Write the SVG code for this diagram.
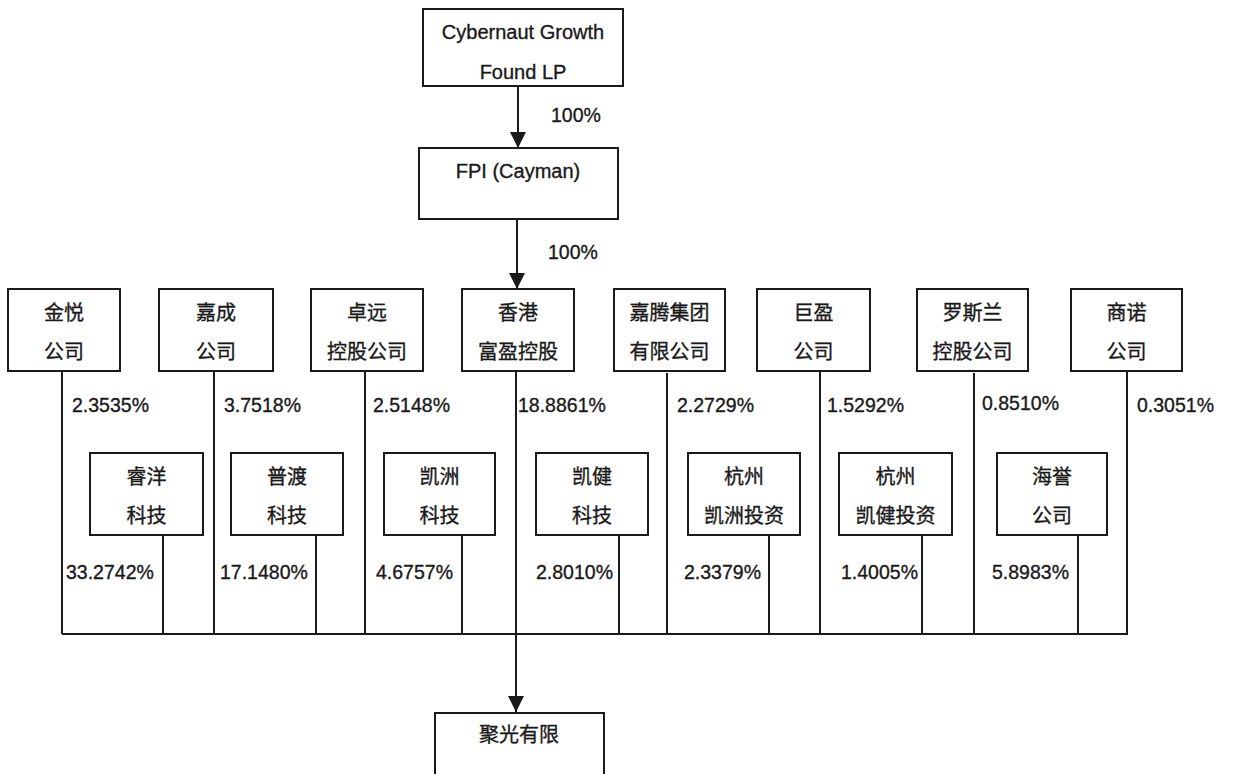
<svg xmlns="http://www.w3.org/2000/svg" width="1233" height="774" viewBox="0 0 1233 774">
<style>
.box{fill:#fff;stroke:#1a1a1a;stroke-width:2}
.ln{fill:none;stroke:#1a1a1a;stroke-width:2}
.t{font-family:"Liberation Sans","Noto Sans CJK SC",sans-serif;font-size:20px;fill:#1a1a1a;stroke:#1a1a1a;stroke-width:0.35;text-anchor:middle}
.p{font-family:"Liberation Sans",Arial,sans-serif;font-size:19.5px;fill:#1a1a1a;stroke:#1a1a1a;stroke-width:0.35}
</style>
<defs>
<marker id="ah" viewBox="0 0 16 16" refX="16" refY="8" markerWidth="16" markerHeight="16" markerUnits="userSpaceOnUse" orient="auto">
<path d="M0,0 L16,8 L0,16 Z" fill="#1a1a1a"/>
</marker>
</defs>
<rect width="1233" height="774" fill="#fff"/>

<g id="connectors">
<path class="ln" d="M518,86 V148" marker-end="url(#ah)"/>
<path class="ln" d="M517,219 V289" marker-end="url(#ah)"/>
<path class="ln" d="M516,371 V712" marker-end="url(#ah)"/>
<path class="ln" d="M62,634 H1128"/>
<path class="ln" d="M62,371 V634 M214,371 V634 M365,371 V634 M667,373 V634 M820,371 V634 M974,373 V634 M1127,371 V634"/>
<path class="ln" d="M163,535 V634 M316,535 V634 M462,535 V634 M619,535 V634 M769,535 V634 M922,535 V634 M1078,535 V634"/>
<text class="p" x="551" y="122">100%</text>
<text class="p" x="548" y="259">100%</text>
<text class="p" x="72" y="412">2.3535%</text>
<text class="p" x="224" y="412">3.7518%</text>
<text class="p" x="373" y="412">2.5148%</text>
<text class="p" x="518" y="412">18.8861%</text>
<text class="p" x="677" y="412">2.2729%</text>
<text class="p" x="827" y="412">1.5292%</text>
<text class="p" x="982" y="410">0.8510%</text>
<text class="p" x="1137" y="412">0.3051%</text>
<text class="p" x="66" y="579">33.2742%</text>
<text class="p" x="220" y="579">17.1480%</text>
<text class="p" x="376" y="579">4.6757%</text>
<text class="p" x="536" y="579">2.8010%</text>
<text class="p" x="684" y="579">2.3379%</text>
<text class="p" x="841" y="579">1.4005%</text>
<text class="p" x="992" y="579">5.8983%</text>
</g>

<g id="cybernaut">
<rect class="box" x="423" y="9" width="200" height="77"/>
<text class="t" x="523" y="39">Cybernaut Growth</text>
<text class="t" x="523" y="79">Found LP</text>
</g>
<g id="fpi">
<rect class="box" x="419" y="148" width="199" height="71"/>
<text class="t" x="518" y="178">FPI (Cayman)</text>
</g>

<g id="jinyue"><rect class="box" x="8" y="289" width="112" height="82"/><text class="t" x="64" y="320">金悦</text><text class="t" x="64" y="359">公司</text></g>
<g id="jiacheng"><rect class="box" x="159" y="289" width="114" height="82"/><text class="t" x="216" y="320">嘉成</text><text class="t" x="216" y="359">公司</text></g>
<g id="zhuoyuan"><rect class="box" x="311" y="289" width="112" height="82"/><text class="t" x="367" y="320">卓远</text><text class="t" x="367" y="359">控股公司</text></g>
<g id="hkfuying"><rect class="box" x="462" y="289" width="112" height="82"/><text class="t" x="518" y="320">香港</text><text class="t" x="518" y="359">富盈控股</text></g>
<g id="jiateng"><rect class="box" x="614" y="289" width="111" height="82"/><text class="t" x="669.5" y="320">嘉腾集团</text><text class="t" x="669.5" y="359">有限公司</text></g>
<g id="juying"><rect class="box" x="757" y="289" width="113" height="82"/><text class="t" x="813.5" y="320">巨盈</text><text class="t" x="813.5" y="359">公司</text></g>
<g id="luosilan"><rect class="box" x="917" y="289" width="111" height="82"/><text class="t" x="972.5" y="320">罗斯兰</text><text class="t" x="972.5" y="359">控股公司</text></g>
<g id="shangnuo"><rect class="box" x="1071" y="289" width="111" height="82"/><text class="t" x="1126.5" y="320">商诺</text><text class="t" x="1126.5" y="359">公司</text></g>

<g id="ruiyang"><rect class="box" x="90" y="453" width="113" height="82"/><text class="t" x="146.5" y="484">睿洋</text><text class="t" x="146.5" y="523">科技</text></g>
<g id="pudu"><rect class="box" x="231" y="453" width="112" height="82"/><text class="t" x="287" y="484">普渡</text><text class="t" x="287" y="523">科技</text></g>
<g id="kaizhou"><rect class="box" x="384" y="453" width="111" height="82"/><text class="t" x="439.5" y="484">凯洲</text><text class="t" x="439.5" y="523">科技</text></g>
<g id="kaijian"><rect class="box" x="536" y="453" width="112" height="82"/><text class="t" x="592" y="484">凯健</text><text class="t" x="592" y="523">科技</text></g>
<g id="hzkaizhou"><rect class="box" x="688" y="453" width="112" height="82"/><text class="t" x="744" y="484">杭州</text><text class="t" x="744" y="523">凯洲投资</text></g>
<g id="hzkaijian"><rect class="box" x="839" y="453" width="113" height="82"/><text class="t" x="895.5" y="484">杭州</text><text class="t" x="895.5" y="523">凯健投资</text></g>
<g id="haiyu"><rect class="box" x="997" y="453" width="110" height="82"/><text class="t" x="1052" y="484">海誉</text><text class="t" x="1052" y="523">公司</text></g>

<g id="juguang"><rect class="box" x="435" y="713" width="169" height="90"/><text class="t" x="519" y="742">聚光有限</text></g>
</svg>
